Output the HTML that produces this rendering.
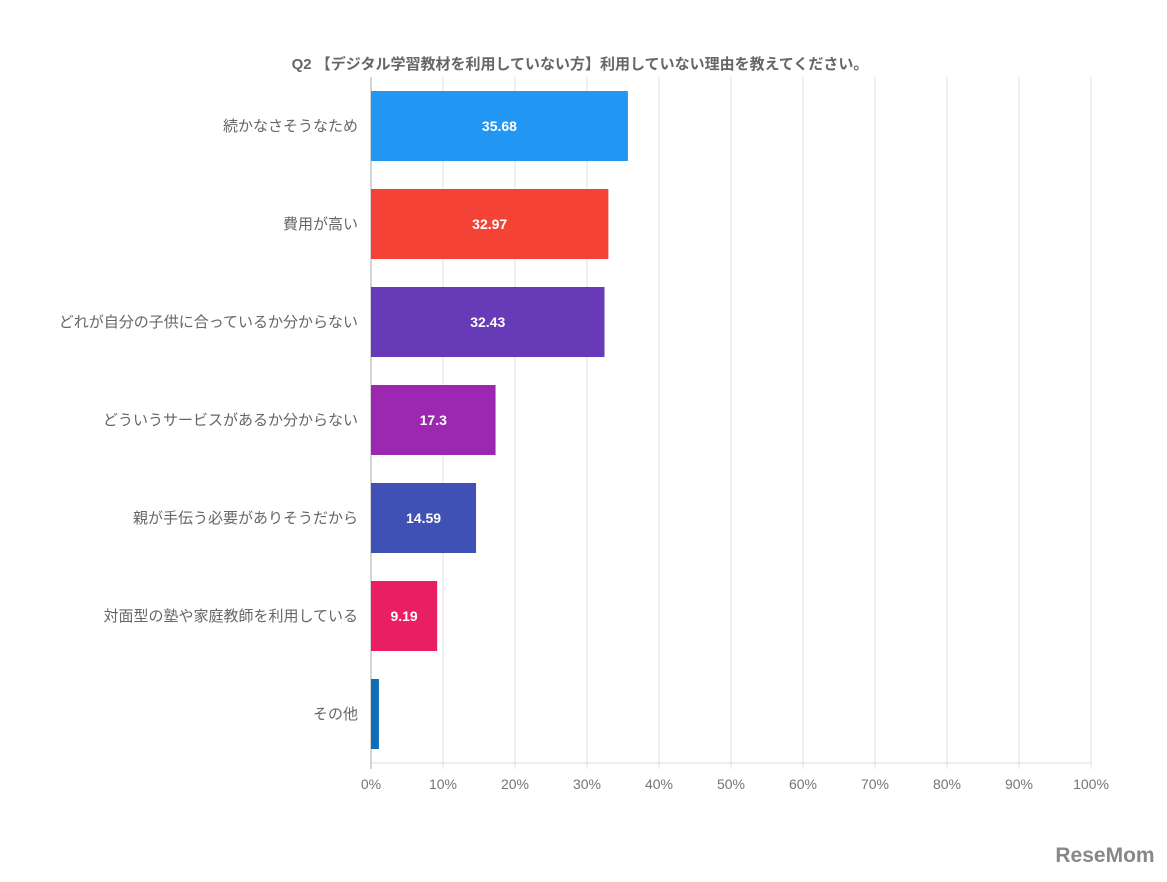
<!DOCTYPE html>
<html><head><meta charset="utf-8"><style>
body{margin:0;background:#fff;width:1167px;height:877px;overflow:hidden;font-family:"Liberation Sans","Noto Sans CJK JP",sans-serif;}
</style></head><body>
<svg width="1167" height="877" xmlns="http://www.w3.org/2000/svg">
<text x="580" y="69" text-anchor="middle" font-size="15" font-weight="bold" fill="#666" font-family="Liberation Sans, Noto Sans CJK JP, sans-serif">Q2 【デジタル学習教材を利用していない方】利用していない理由を教えてください。</text>
<g id="grid"></g><g id="bars"></g><g id="labels"></g>
<text x="1105" y="862" text-anchor="middle" font-size="21" font-weight="bold" fill="#888">ReseMom</text>
</svg>
<script>
const categories=["続かなさそうなため","費用が高い","どれが自分の子供に合っているか分からない","どういうサービスがあるか分からない","親が手伝う必要がありそうだから","対面型の塾や家庭教師を利用している","その他"];
const values=[35.68,32.97,32.43,17.3,14.59,9.19,1.1];
const valueLabels=["35.68","32.97","32.43","17.3","14.59","9.19",""];
const colors=["#2196f3","#f44336","#673ab7","#9c27b0","#3f51b5","#e91e63","#0e6eb8"];
const ticks=[0,10,20,30,40,50,60,70,80,90,100];
const NS="http://www.w3.org/2000/svg";
const X0=371,X1=1091,Y0=77,Y1=763,band=(Y1-Y0)/categories.length,bh=70;
const x=v=>X0+(X1-X0)*v/100;
const y=i=>Y0+band*i+(band-bh)/2;
function mk(t,a,p){const e=document.createElementNS(NS,t);for(const k in a)e.setAttribute(k,a[k]);p.appendChild(e);return e;}
const g=document.getElementById('grid'),b=document.getElementById('bars'),l=document.getElementById('labels');
ticks.forEach(t=>{
 const ln=mk('line',{x1:x(t),x2:x(t),y1:Y0,y2:Y1+6,stroke:t===0?'#aaa':'#e0e0e0','stroke-width':1},g);
 
 
 const tx=mk('text',{x:x(t),y:789,'text-anchor':'middle','font-size':14,fill:'#757575'},g);
 tx.textContent=t+'%';
 
 
});
const ax=mk('line',{x1:X0,x2:X1,y1:Y1,y2:Y1,stroke:'#ddd'},g);


categories.forEach((c,i)=>{
 const r=mk('rect',{x:X0,y:y(i),width:x(values[i])-X0,height:bh,fill:colors[i]},b);
 
 
 const ct=mk('text',{x:358,y:y(i)+bh/2+5,'text-anchor':'end','font-size':15,fill:'#666'},l);
 ct.textContent=c;
 
 
 if(valueLabels[i]){
  const vt=mk('text',{x:(X0+x(values[i]))/2,y:y(i)+bh/2+5,'text-anchor':'middle','font-size':14,'font-weight':'bold',fill:'#fff'},l);
  vt.textContent=valueLabels[i];
  
  
 }
});
</script>
</body></html>
